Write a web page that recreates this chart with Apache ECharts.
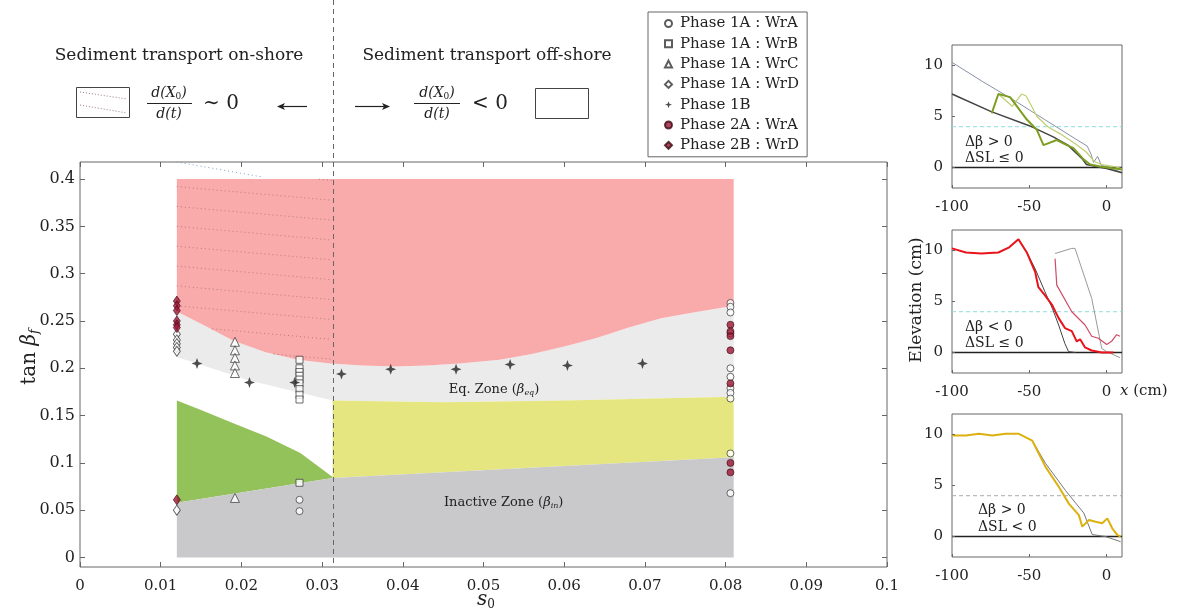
<!DOCTYPE html>
<html><head><meta charset="utf-8">
<script src="https://cdn.jsdelivr.net/npm/echarts@6/dist/echarts.min.js"></script>
<style>html,body{margin:0;padding:0;background:#fff}#c{width:1180px;height:616px}</style>
</head><body><div id="c"></div>
<script>
// ---------------- DATA ----------------
var mainYTicks = [0, 0.05, 0.1, 0.15, 0.2, 0.25, 0.3, 0.35, 0.4];
var shoreDivide = 0.0313;
var zoneTopX = [0.012, 0.081];
var zoneTopY = [0.4, 0.4];
var zoneBottomX = [0.012, 0.081];
var zoneBottomY = [0, 0];
var redBottomX = [0.012, 0.015, 0.019, 0.023, 0.027, 0.031, 0.035, 0.039, 0.043, 0.047, 0.052, 0.056, 0.060, 0.064, 0.068, 0.072, 0.076, 0.081];
var redBottomY = [0.260, 0.247, 0.229, 0.217, 0.209, 0.205, 0.203, 0.202, 0.203, 0.205, 0.209, 0.215, 0.223, 0.232, 0.243, 0.253, 0.259, 0.266];
var eqLowerX = [0.012, 0.021, 0.0313, 0.045, 0.060, 0.081];
var eqLowerY = [0.212, 0.187, 0.166, 0.164, 0.166, 0.170];
var greenTopX = [0.012, 0.015, 0.019, 0.0231, 0.0273, 0.0313];
var greenTopY = [0.166, 0.156, 0.142, 0.128, 0.1105, 0.085];
var inactiveTopX = [0.012, 0.0313, 0.081];
var inactiveTopY = [0.058, 0.084, 0.106];
var hatchStartY = [0.434, 0.413, 0.392, 0.371, 0.350, 0.329, 0.308, 0.287, 0.266, 0.245, 0.224];
var hatchSlope = 0.75;
var topDotX = [0.012, 0.0227];
var topDotY = [0.418, 0.402];

var p1aWrA_s0  = [0.0272, 0.0272, 0.0806, 0.0806, 0.0806, 0.0806, 0.0806, 0.0806, 0.0806, 0.0806, 0.0806, 0.0806, 0.0806];
var p1aWrA_tan = [0.061, 0.049, 0.269, 0.265, 0.259, 0.237, 0.200, 0.191, 0.179, 0.174, 0.168, 0.110, 0.068];
var p1aWrB_s0  = [0.0272, 0.0272, 0.0272, 0.0272, 0.0272, 0.0272, 0.0272, 0.0272, 0.0272, 0.0272];
var p1aWrB_tan = [0.209, 0.200, 0.196, 0.192, 0.188, 0.184, 0.178, 0.172, 0.167, 0.079];
var p1aWrC_s0  = [0.0192, 0.0192, 0.0192, 0.0192, 0.0192, 0.0192];
var p1aWrC_tan = [0.228, 0.219, 0.211, 0.203, 0.195, 0.063];
var p1aWrD_s0  = [0.012, 0.012, 0.012, 0.012, 0.012, 0.012];
var p1aWrD_tan = [0.236, 0.230, 0.226, 0.222, 0.218, 0.050];
var p1B_s0  = [0.0145, 0.0210, 0.0266, 0.0324, 0.0385, 0.0466, 0.0533, 0.0604, 0.0697];
var p1B_tan = [0.205, 0.185, 0.185, 0.194, 0.199, 0.199, 0.204, 0.203, 0.205];
var p2aWrA_s0  = [0.0806, 0.0806, 0.0806, 0.0806, 0.0806, 0.0806, 0.0806];
var p2aWrA_tan = [0.246, 0.239, 0.234, 0.219, 0.184, 0.100, 0.090];
var p2bWrD_s0  = [0.012, 0.012, 0.012, 0.012, 0.012, 0.012, 0.012];
var p2bWrD_tan = [0.271, 0.266, 0.261, 0.250, 0.246, 0.243, 0.061];

var smallXTicks = [-100, -50, 0];
var smallYTicks = [0, 5, 10];
var baseX = [-100, 10];
var baseY = [0, 0];
var swlX = [-100, 10];
var swlY = [4, 4];

var c1InitX = [-100, -80, -60, -40, -20, -12.5, -10, -8.4, -5.8, -3.3, 0, 5, 10];
var c1InitY = [10.3, 8.4, 6.6, 4.7, 2.8, 2.1, 1.3, 0.5, 1.1, 0.2, 0.1, -0.2, -0.5];
var c1DarkX = [-100, -75, -50, -34.5, -25, -16, -13, -5, 0, 10];
var c1DarkY = [7.2, 5.5, 4.1, 3.0, 2.2, 0.9, 0.3, 0.05, -0.1, -0.5];
var c1GreenX = [-74.3, -70, -62.4, -51.6, -45.1, -40.8, -32.2, -25.7, -21.4, -14.9, -10.6, -4.1, 10];
var c1GreenY = [5.3, 7.2, 6.9, 4.7, 3.7, 2.2, 2.7, 2.2, 1.9, 0.8, 0.3, 0.1, -0.2];
var c1LightX = [-70, -61, -55, -52, -45, -38, -30, -20, -13, -8, -3, 5, 10];
var c1LightY = [7.2, 6.0, 7.2, 7.0, 5.0, 4.0, 3.3, 2.3, 1.5, 0.6, 0.3, 0.1, -0.1];

var c2RedX = [-100, -91, -81, -70, -63, -57, -51.6, -46.2, -44.1, -39.8, -35.4, -31.1, -26.9, -22.5, -19.3, -17.1, -13.9, -9.6, -3.1, 4.4];
var c2RedY = [10.2, 9.8, 9.7, 9.8, 10.3, 11.1, 9.8, 7.9, 6.4, 5.6, 4.7, 3.4, 2.4, 2.1, 1.1, 1.3, 0.5, 0.2, 0.0, 0.0];
var c2DarkX = [-57, -51.6, -46.2, -40, -35, -31, -27, -24.6, -20];
var c2DarkY = [11.1, 9.8, 8.2, 6.0, 4.3, 2.7, 0.9, 0.1, 0];
var c2PinkX = [-33.3, -32.2, -22.5, -13.9, -9.6, -5.3, 0.1, 3.3, 6.5, 8.7];
var c2PinkY = [9.2, 6.6, 4.0, 2.7, 1.6, 1.4, 0.8, 1.1, 1.75, 1.6];
var c2GrayX = [-33.3, -22.5, -20.4, -18.2, -9.6, -3.1, 0.1, 8.7];
var c2GrayY = [9.7, 10.2, 10.2, 9.2, 5.3, 0.4, 0.1, -0.5];

var c3GoldX = [-100, -91, -82.6, -73.9, -65.3, -56.7, -48.1, -39.4, -30.8, -24.3, -17.9, -15.7, -11.4, -7.1, -2.8, 0.5, 3.7, 6.9, 9.1];
var c3GoldY = [9.9, 9.9, 10.06, 9.9, 10.06, 10.06, 9.4, 6.8, 4.85, 3.2, 2.1, 0.97, 1.62, 1.46, 1.3, 1.78, 0.81, 0.16, 0];
var c3GrayX = [-48.1, -39.4, -26.5, -14.7, -9.3, -0.6, 9.1];
var c3GrayY = [9.4, 7.15, 4.5, 2.3, 0.2, 0, -0.5];

// ---------------- HELPERS ----------------
var SERIF = 'DejaVu Serif';
var TXT = '#222';
var AX = '#666';
function fmt(v) { return String(parseFloat(v.toFixed(3))); }
function zip(xs, ys) { var o = []; for (var i = 0; i < xs.length; i++) o.push([xs[i], ys[i]]); return o; }
function interp(xs, ys, x) {
  if (x <= xs[0]) return ys[0];
  for (var i = 1; i < xs.length; i++) {
    if (x <= xs[i]) { var t = (x - xs[i-1]) / (xs[i] - xs[i-1]); return ys[i-1] + t * (ys[i] - ys[i-1]); }
  }
  return ys[ys.length - 1];
}
function poly(upX, upY, loX, loY, color, z) {
  return {
    type: 'custom', xAxisIndex: 0, yAxisIndex: 0, silent: true, z: z,
    data: [[upX[0], upY[0]]],
    renderItem: function (params, api) {
      var pts = [];
      for (var i = 0; i < upX.length; i++) pts.push(api.coord([upX[i], upY[i]]));
      for (var j = loX.length - 1; j >= 0; j--) pts.push(api.coord([loX[j], loY[j]]));
      return { type: 'polygon', shape: { points: pts }, style: { fill: color } };
    }
  };
}
function smallLine(g, xs, ys, color, width, type, z) {
  return { type: 'line', xAxisIndex: g + 1, yAxisIndex: g + 1, data: zip(xs, ys), showSymbol: false, symbol: 'none', silent: true,
    lineStyle: { color: color, width: width, type: type || 'solid' }, z: z || 2 };
}

var series = [];
series.push(poly(redBottomX, redBottomY, eqLowerX, eqLowerY, '#ebebeb', 1));
series.push(poly(zoneTopX, zoneTopY, redBottomX, redBottomY, '#f9aaab', 1));
series.push(poly(greenTopX, greenTopY, inactiveTopX.slice(0, 2), inactiveTopY.slice(0, 2), '#93c15a', 1));
series.push(poly(eqLowerX.slice(2), eqLowerY.slice(2), inactiveTopX.slice(1), inactiveTopY.slice(1), '#e5e67f', 1));
series.push(poly(inactiveTopX, inactiveTopY, zoneBottomX, zoneBottomY, '#c9c9cb', 1));

hatchStartY.forEach(function (y0) {
  var pts = [];
  for (var x = zoneTopX[0]; x <= shoreDivide + 1e-9; x += 0.0004) {
    var y = y0 - hatchSlope * (x - zoneTopX[0]);
    if (y <= zoneTopY[0] && y >= interp(redBottomX, redBottomY, x)) pts.push([x, y]);
  }
  if (pts.length > 1) series.push({ type: 'line', xAxisIndex: 0, yAxisIndex: 0, data: pts, symbol: 'none', silent: true, z: 3,
    lineStyle: { color: '#9a6565', width: 1, type: [1, 3], opacity: 0.7 } });
});
series.push({ type: 'line', xAxisIndex: 0, yAxisIndex: 0, data: zip(topDotX, topDotY), symbol: 'none', silent: true, z: 3,
  lineStyle: { color: '#7d9cc8', width: 1, type: [1, 3] } });

var openStyle = { color: '#fff', borderColor: '#333', borderWidth: 0.9 };
var redStyle = { color: '#9c1636', borderColor: '#3a0a12', borderWidth: 0.8 };
var starPath = 'path://M0,-10 L2.6,-2.6 L10,0 L2.6,2.6 L0,10 L-2.6,2.6 L-10,0 L-2.6,-2.6 Z';
function sc(name, xs, ys, symbol, size, style) {
  return { name: name, type: 'scatter', xAxisIndex: 0, yAxisIndex: 0, data: zip(xs, ys), symbol: symbol, symbolSize: size,
    itemStyle: style, z: 6, silent: true };
}
series.push(sc('Phase 1A : WrA', p1aWrA_s0, p1aWrA_tan, 'circle', 7, openStyle));
series.push(sc('Phase 1A : WrB', p1aWrB_s0, p1aWrB_tan, 'rect', 7, openStyle));
series.push(sc('Phase 1A : WrC', p1aWrC_s0, p1aWrC_tan, 'triangle', 9, openStyle));
series.push(sc('Phase 1A : WrD', p1aWrD_s0, p1aWrD_tan, 'diamond', [7, 10], openStyle));
series.push(sc('Phase 1B', p1B_s0, p1B_tan, starPath, 11, { color: '#222' }));
series.push(sc('Phase 2A : WrA', p2aWrA_s0, p2aWrA_tan, 'circle', 7, redStyle));
series.push(sc('Phase 2B : WrD', p2bWrD_s0, p2bWrD_tan, 'diamond', [7, 10], redStyle));

series.push(smallLine(1, swlX, swlY, '#8fdede', 1, [4, 3], 1));
series.push(smallLine(1, baseX, baseY, '#222', 1.5, 'solid', 2));
series.push(smallLine(1, c1InitX, c1InitY, '#8791a6', 1, 'solid', 3));
series.push(smallLine(1, c1DarkX, c1DarkY, '#444', 1.5, 'solid', 3));
series.push(smallLine(1, c1LightX, c1LightY, '#bfcf72', 1.2, 'solid', 4));
series.push(smallLine(1, c1GreenX, c1GreenY, '#7e9e22', 2, 'solid', 5));

series.push(smallLine(2, swlX, swlY, '#8fdede', 1, [4, 3], 1));
series.push(smallLine(2, baseX, baseY, '#222', 1.5, 'solid', 2));
series.push(smallLine(2, c2GrayX, c2GrayY, '#999', 1, 'solid', 3));
series.push(smallLine(2, c2DarkX, c2DarkY, '#444', 1, 'solid', 3));
series.push(smallLine(2, c2PinkX, c2PinkY, '#cf4a67', 1.2, 'solid', 4));
series.push(smallLine(2, c2RedX, c2RedY, '#e8131b', 2, 'solid', 5));

series.push(smallLine(3, swlX, swlY, '#aaa', 1, [4, 3], 1));
series.push(smallLine(3, baseX, baseY, '#222', 1.5, 'solid', 2));
series.push(smallLine(3, c3GrayX, c3GrayY, '#777', 1, 'solid', 3));
series.push(smallLine(3, c3GoldX, c3GoldY, '#dcb10f', 2, 'solid', 5));

// axes
var noLine = { show: false, onZero: false };
var tickStyle = { show: true, inside: true, length: 5, lineStyle: { color: AX, width: 1 } };
var xAxes = [
  { gridIndex: 0, type: 'value', min: 0, max: 0.1, interval: 0.01, position: 'bottom', z: 10, axisLine: noLine, axisTick: tickStyle,
    axisLabel: { formatter: fmt, fontFamily: SERIF, fontSize: 15, color: TXT, margin: 12 }, splitLine: { show: false } },
  { gridIndex: 0, type: 'value', min: 0, max: 0.1, interval: 0.01, position: 'top', z: 10, axisLine: noLine, axisTick: tickStyle,
    axisLabel: { show: false }, splitLine: { show: false } }
];
var yAxes = [
  { gridIndex: 0, type: 'value', min: -0.01, max: 0.418, position: 'left', z: 10, axisLine: noLine,
    axisTick: { show: true, inside: true, length: 5, lineStyle: { color: AX }, customValues: mainYTicks },
    axisLabel: { customValues: mainYTicks, formatter: fmt, fontFamily: SERIF, fontSize: 16, color: TXT, margin: 5 }, splitLine: { show: false } },
  { gridIndex: 0, type: 'value', min: -0.01, max: 0.418, position: 'right', z: 10, axisLine: noLine,
    axisTick: { show: true, inside: true, length: 5, lineStyle: { color: AX }, customValues: mainYTicks },
    axisLabel: { show: false }, splitLine: { show: false } }
];
var grids = [{ left: 80, top: 162, width: 807, height: 405, show: true, borderColor: AX, borderWidth: 1 }];
var smallTops = [45, 230, 414];
for (var g = 0; g < 3; g++) {
  grids.push({ left: 952, top: smallTops[g], width: 170, height: 143, show: true, borderColor: AX, borderWidth: 1 });
  xAxes.push({ gridIndex: g + 1, type: 'value', min: -100, max: 10, position: 'bottom', z: 10, axisLine: noLine,
    axisTick: { show: true, inside: true, length: 3, lineStyle: { color: AX }, customValues: smallXTicks },
    axisLabel: { customValues: smallXTicks, fontFamily: SERIF, fontSize: 15, color: TXT, margin: 12 }, splitLine: { show: false } });
  yAxes.push({ gridIndex: g + 1, type: 'value', min: -2, max: 12, position: 'left', z: 10, axisLine: noLine,
    axisTick: { show: true, inside: true, length: 3, lineStyle: { color: AX }, customValues: smallYTicks },
    axisLabel: { customValues: smallYTicks, fontFamily: SERIF, fontSize: 15, color: TXT, margin: 9 }, splitLine: { show: false } });
}

var chart = echarts.init(document.getElementById('c'));
chart.setOption({
  animation: false,
  backgroundColor: '#fff',
  grid: grids, xAxis: xAxes, yAxis: yAxes, series: series,
  legend: {
    left: 648, top: 12, orient: 'vertical', itemGap: 5.3, itemWidth: 7, itemHeight: 7,
    padding: [4, 8, 4, 16], borderColor: '#666', borderWidth: 1, selectedMode: false,
    textStyle: { fontFamily: SERIF, fontSize: 15, color: TXT, padding: [0, 0, 0, 3] },
    data: ['Phase 1A : WrA', 'Phase 1A : WrB', 'Phase 1A : WrC', 'Phase 1A : WrD', 'Phase 1B', 'Phase 2A : WrA', 'Phase 2B : WrD']
  }
});

var divPx = chart.convertToPixel({ xAxisIndex: 0 }, shoreDivide);
var botPx = chart.convertToPixel({ yAxisIndex: 0 }, -0.01);
var eqPos = chart.convertToPixel({ gridIndex: 0 }, [0.0513, 0.177]);
var inPos = chart.convertToPixel({ gridIndex: 0 }, [0.0525, 0.058]);

function T(x, y, text, size, extra) {
  var st = { text: text, fontFamily: SERIF, fontSize: size, fill: TXT, align: 'center', verticalAlign: 'middle' };
  for (var k in (extra || {})) st[k] = extra[k];
  return { type: 'text', x: x, y: y, style: st, silent: true, z: 100 };
}
var fracRich = { i: { fontStyle: 'italic', fontSize: 14, fontFamily: SERIF, fill: TXT }, s: { fontSize: 9, fontFamily: SERIF, fill: TXT, padding: [7, 0, 0, 0] } };
var subRich = {
  n: { fontFamily: SERIF, fontSize: 13, fill: TXT }, i: { fontFamily: SERIF, fontStyle: 'italic', fontSize: 13, fill: TXT },
  s: { fontFamily: SERIF, fontStyle: 'italic', fontSize: 8, fill: TXT, padding: [6, 0, 0, 0] } };
var graphic = [
  { type: 'line', z: 50, shape: { x1: Math.round(divPx) + 0.5, y1: 0, x2: Math.round(divPx) + 0.5, y2: botPx }, style: { stroke: '#666', lineDash: [5, 4], lineWidth: 1 }, silent: true },
  T(179, 56, 'Sediment transport on-shore', 17),
  T(487, 56, 'Sediment transport off-shore', 17),
  { type: 'rect', shape: { x: 76.5, y: 87.5, width: 53, height: 30 }, style: { fill: '#fff', stroke: '#444', lineWidth: 1 }, silent: true },
  { type: 'line', shape: { x1: 80, y1: 92, x2: 127, y2: 99 }, style: { stroke: '#9a7a8a', lineDash: [1, 2], lineWidth: 1 }, silent: true },
  { type: 'line', shape: { x1: 80, y1: 105, x2: 127, y2: 113 }, style: { stroke: '#9a7a8a', lineDash: [1, 2], lineWidth: 1 }, silent: true },
  T(169, 93, '{i|d(X}{s|0}{i|)}', 14, { rich: fracRich }),
  { type: 'line', shape: { x1: 147, y1: 103.5, x2: 192, y2: 103.5 }, style: { stroke: TXT, lineWidth: 1 }, silent: true },
  T(169, 114, '{i|d(t)}', 14, { rich: fracRich }),
  T(221, 104, '∼ 0', 20, { fontFamily: 'DejaVu Serif, DejaVu Sans' }),
  { type: 'line', shape: { x1: 281, y1: 106.5, x2: 307, y2: 106.5 }, style: { stroke: TXT, lineWidth: 1.2 }, silent: true },
  { type: 'polygon', shape: { points: [[277, 106.5], [285, 103], [283, 106.5], [285, 110]] }, style: { fill: TXT }, silent: true },
  { type: 'line', shape: { x1: 355, y1: 106.5, x2: 386, y2: 106.5 }, style: { stroke: TXT, lineWidth: 1.2 }, silent: true },
  { type: 'polygon', shape: { points: [[390, 106.5], [382, 103], [384, 106.5], [382, 110]] }, style: { fill: TXT }, silent: true },
  T(437, 93, '{i|d(X}{s|0}{i|)}', 14, { rich: fracRich }),
  { type: 'line', shape: { x1: 414, y1: 103.5, x2: 460, y2: 103.5 }, style: { stroke: TXT, lineWidth: 1 }, silent: true },
  T(437, 114, '{i|d(t)}', 14, { rich: fracRich }),
  T(490, 104, '< 0', 20),
  { type: 'rect', shape: { x: 535.5, y: 88.5, width: 53, height: 30 }, style: { fill: '#fff', stroke: '#444', lineWidth: 1 }, silent: true },
  T(eqPos[0], eqPos[1], '{n|Eq. Zone (}{i|β}{s|eq}{n|)}', 13, { rich: subRich }),
  T(inPos[0], inPos[1], '{n|Inactive Zone (}{i|β}{s|in}{n|)}', 13, { rich: subRich }),
  { type: 'text', x: 30, y: 357, rotation: Math.PI / 2, silent: true, style: { text: '{n|tan }{i|β}{s|f}', align: 'center', verticalAlign: 'middle', rich: {
    n: { fontFamily: SERIF, fontSize: 20, fill: TXT }, i: { fontFamily: SERIF, fontStyle: 'italic', fontSize: 20, fill: TXT },
    s: { fontFamily: SERIF, fontStyle: 'italic', fontSize: 13, fill: TXT, padding: [10, 0, 0, 0] } } } },
  T(486, 600, '{i|s}{s|0}', 20, { rich: { i: { fontFamily: SERIF, fontStyle: 'italic', fontSize: 20, fill: TXT },
    s: { fontFamily: SERIF, fontSize: 12, fill: TXT, padding: [10, 0, 0, 0] } } }),
  { type: 'text', x: 917, y: 300, rotation: Math.PI / 2, silent: true, style: { text: 'Elevation (cm)', fontFamily: SERIF, fontSize: 17, fill: TXT, align: 'center', verticalAlign: 'middle' } },
  T(1120, 391, '{i|x} (cm)', 15, { align: 'left', rich: { i: { fontFamily: SERIF, fontStyle: 'italic', fontSize: 15, fill: TXT } } }),
  T(965, 142, 'Δβ > 0', 14, { align: 'left' }),
  T(965, 158, 'ΔSL ≤ 0', 14, { align: 'left' }),
  T(965, 327, 'Δβ < 0', 14, { align: 'left' }),
  T(965, 343, 'ΔSL ≤ 0', 14, { align: 'left' }),
  T(978, 510, 'Δβ > 0', 14, { align: 'left' }),
  T(978, 527, 'ΔSL < 0', 14, { align: 'left' })
];
chart.setOption({ graphic: graphic });
</script></body></html>
